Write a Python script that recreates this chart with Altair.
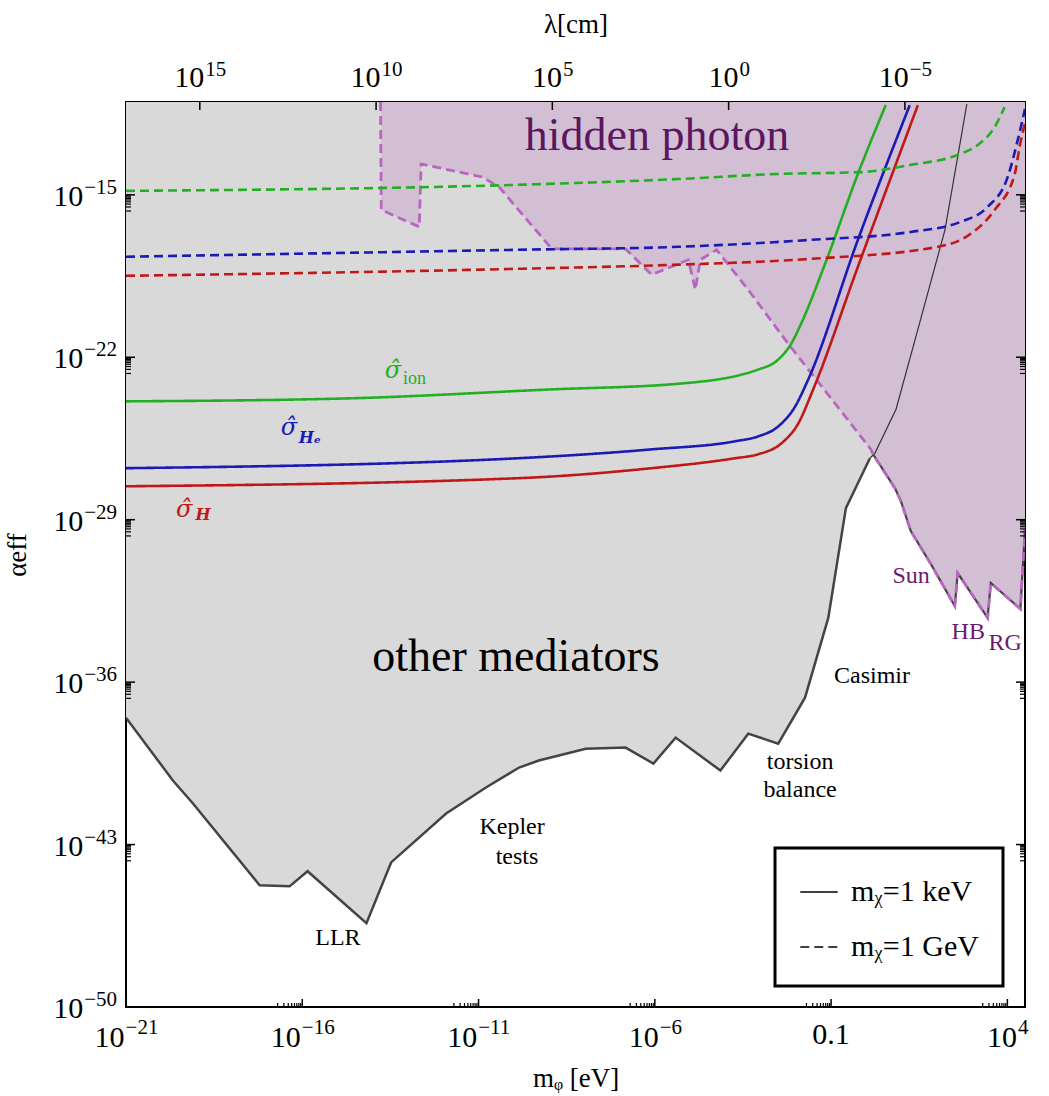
import math
import altair as alt
import pandas as pd

# ---------------- data (log10 values) ----------------
X_DOMAIN = [1e-21, 10 ** 4.5]
Y_DOMAIN = [1e-50, 1e-11]
LAM_CONV = 1.24e-4  # lambda[cm] * m[eV]

# lower envelope of "other mediators" region
env_logm = [-21.0, -19.67, -19.10, -17.21, -16.36, -15.85, -14.18, -13.48, -11.92, -10.79,
            -9.85, -9.29, -7.96, -6.83, -6.04, -5.41, -4.14, -3.35, -2.50, -1.74, -1.08, -0.58, 0.10]
env_loga = [-37.53, -40.24, -41.23, -44.75, -44.80, -44.15, -46.39, -43.77, -41.66, -40.54,
            -39.68, -39.38, -38.87, -38.82, -39.51, -38.39, -39.81, -38.22, -38.65, -36.67, -33.23, -28.50, -26.35]
# thin black right edge of the grey region
edge_logm = [0.10, 0.24, 0.84, 1.46, 2.23, 2.59, 2.85]
edge_loga = [-26.35, -26.14, -24.25, -20.81, -16.51, -13.37, -11.09]

# hidden photon lower boundary
ph_logm = [-13.78, -13.76, -12.68, -12.63, -10.90, -10.42, -9.77, -8.92, -6.83, -6.09, -5.05, -4.85,
           -4.71, -4.25, -3.35, -2.22, 0.13, 0.19, 0.81, 0.98, 1.26, 1.83, 2.51, 2.59, 3.44, 3.53,
           4.37, 4.50]
ph_loga = [-11.0, -15.65, -16.38, -13.67, -14.23, -14.66, -15.82, -17.33, -17.33, -18.44, -17.80, -19.09,
           -17.80, -17.37, -19.09, -21.41, -25.97, -26.18, -27.64, -28.20, -29.49, -30.91, -32.72, -31.30,
           -33.23, -31.73, -32.85, -29.40]
SUN_START = 17

# sensitivity curves
ion_keV_m = [-21, -14.66, -9.01, -5.24, -3.07, -2.50, -2.13, -1.85, -1.17, -0.24, 0.55]
ion_keV_a = [-23.90, -23.77, -23.39, -23.13, -22.53, -22.10, -21.41, -20.55, -17.97, -14.10, -11.13]
He_keV_m = [-21, -9.85, -6.09, -3.72, -3.07, -2.50, -2.02, -1.65, -0.24, 1.23]
He_keV_a = [-26.78, -26.35, -25.97, -25.62, -25.41, -24.98, -24.12, -22.96, -16.94, -11.14]
H_keV_m = [-21, -9.85, -6.09, -3.72, -3.07, -2.41, -1.93, -1.51, -0.24, 1.46]
H_keV_a = [-27.56, -27.21, -26.78, -26.35, -26.18, -25.71, -24.85, -23.39, -18.10, -11.14]
ion_GeV_m = [-21, -9.94, -5.33, -2.50, -0.15, 1.26, 2.59, 3.16, 3.64, 3.92]
ion_GeV_a = [-14.83, -14.57, -14.32, -14.10, -14.02, -13.71, -13.28, -12.85, -12.08, -11.22]
He_GeV_m = [-21, -9.94, -5.33, -1.57, 1.26, 2.68, 3.44, 4.01, 4.30, 4.50]
He_GeV_a = [-17.67, -17.37, -17.24, -16.94, -16.60, -16.16, -15.52, -14.23, -12.60, -11.30]
H_GeV_m = [-21, -9.94, -5.33, -1.57, 2.03, 2.96, 3.64, 4.21, 4.35, 4.50]
H_GeV_a = [-18.49, -18.19, -18.01, -17.76, -17.24, -16.68, -15.65, -14.10, -12.90, -11.90]

x_major = [1e-21, 1e-16, 1e-11, 1e-6, 0.1, 1e4]
y_major = [1e-50, 1e-43, 1e-36, 1e-29, 1e-22, 1e-15]
lam_major = [1e15, 1e10, 1e5, 1.0, 1e-5]

KEV = "mᵪ=1 keV"
GEV = "mᵪ=1 GeV"

# text labels: (log m, log alpha, text, color)
big_labels = [(-5.94, -12.45, "hidden photon", "#5c1660"), (-9.94, -34.9, "other mediators", "black")]
small_labels = [(1.27, -31.42, "Sun", "#6a1a6e"), (2.89, -33.84, "HB", "#6a1a6e"), (3.94, -34.31, "RG", "#6a1a6e"),
                (0.16, -35.73, "Casimir", "black"), (-1.88, -39.44, "torsion", "black"),
                (-1.88, -40.65, "balance", "black"), (-10.05, -42.24, "Kepler", "black"),
                (-9.91, -43.53, "tests", "black"), (-14.99, -47.03, "LLR", "black")]
sigma_labels = [(-13.43, -22.59, "σ̂", "#22b022"), (-16.38, -25.04, "σ̂", "#1a1ab4"), (-19.35, -28.58, "σ̂", "#c01818")]
sub_plain = [(-13.14, -22.95, "ion", "#22b022")]
sub_bold = [(-16.10, -25.50, "Hₑ", "#1a1ab4"), (-19.03, -28.80, "H", "#c01818")]

# ---------------- build tables ----------------
def p(v):
    return 10.0 ** v

TOP = Y_DOMAIN[1]
grey_df = pd.DataFrame({"m": [p(v) for v in env_logm + edge_logm[1:]],
                        "a": [p(v) for v in env_loga + edge_loga[1:]], "top": TOP})
env_df = pd.DataFrame({"m": [p(v) for v in env_logm], "a": [p(v) for v in env_loga]})
edge_df = pd.DataFrame({"m": [p(v) for v in edge_logm], "a": [p(v) for v in edge_loga]})
ph_df = pd.DataFrame({"m": [p(v) for v in ph_logm], "a": [p(v) for v in ph_loga], "top": TOP})
ph_area_df = ph_df.iloc[1:]
sun_df = ph_df.iloc[SUN_START:]

curves = []
for name, ser, mass, ms, as_ in [("ionk", "ion", KEV, ion_keV_m, ion_keV_a), ("Hek", "He", KEV, He_keV_m, He_keV_a),
                                 ("Hk", "H", KEV, H_keV_m, H_keV_a), ("ionG", "ion", GEV, ion_GeV_m, ion_GeV_a),
                                 ("HeG", "He", GEV, He_GeV_m, He_GeV_a), ("HG", "H", GEV, H_GeV_m, H_GeV_a)]:
    for mm, aa in zip(ms, as_):
        curves.append({"curve": name, "series": ser, "mass": mass, "m": p(mm), "a": p(aa)})
curve_df = pd.DataFrame(curves)


def lab_df(rows):
    return pd.DataFrame([{"m": p(r[0]), "a": p(r[1]), "text": r[2], "color": r[3]} for r in rows])


def in_x(v):
    return X_DOMAIN[0] <= v <= X_DOMAIN[1]


def in_y(v):
    return Y_DOMAIN[0] <= v <= Y_DOMAIN[1]


xt = [{"v": v, "kind": "major"} for v in x_major]
xt += [{"v": j * v / 10, "kind": "minor"} for v in x_major for j in range(2, 10) if in_x(j * v / 10)]
yt = [{"v": v, "kind": "major"} for v in y_major]
yt += [{"v": j * v / 10, "kind": "minor"} for v in y_major for j in range(2, 10) if in_y(j * v / 10)]
xt_df = pd.DataFrame(xt)
yt_df = pd.DataFrame(yt)

# ---------------- scales / axes ----------------
W, H = 899, 905
SERIF = "Liberation Serif"
BASE_FS, EXP_FS = 30, 21

xs = alt.Scale(type="log", domain=X_DOMAIN, nice=False)
ys = alt.Scale(type="log", domain=Y_DOMAIN, nice=False)
xaxis = alt.Axis(labels=False, title="mᵩ [eV]", ticks=False, domain=False, grid=False, titleFontSize=27,
                 titlePadding=58)
yaxis = alt.Axis(labels=False, title="αeff", ticks=False, domain=False, grid=False, titleFontSize=27,
                 titlePadding=95)


def X(f="m"):
    return alt.X(f"{f}:Q", scale=xs, axis=xaxis)


def Y(f="a"):
    return alt.Y(f"{f}:Q", scale=ys, axis=yaxis)


def exp_of(v):
    k = int(round(math.log10(v)))
    return ("−" if k < 0 else "") + str(abs(k))


def exp_width(e):
    return EXP_FS * (0.564 * e.count("−") + 0.5 * (len(e) - e.count("−")))


def horiz_labels(values, xenc, base_y, exp_y, special=None):
    """Tick labels 10^k centred on ticks of a horizontal axis."""
    special = special or {}
    groups = {}
    for v in values:
        if v in special:
            groups.setdefault(("special",), []).append({"v": v, "base": special[v], "exp": ""})
        else:
            e = exp_of(v)
            groups.setdefault((e.count("−"), len(e)), []).append({"v": v, "base": "10", "exp": e})
    layers = []
    for key, rows in groups.items():
        df = pd.DataFrame(rows)
        if key == ("special",):
            layers.append(alt.Chart(df).mark_text(font=SERIF, fontSize=BASE_FS, align="center",
                                                  baseline="alphabetic", color="black").encode(
                x=xenc, y=alt.value(base_y - 3), text="base:N"))
            continue
        ew = exp_width(rows[0]["exp"])
        shift = (BASE_FS - ew) / 2
        layers.append(alt.Chart(df).mark_text(font=SERIF, fontSize=BASE_FS, align="right", baseline="alphabetic",
                                              dx=shift, color="black").encode(x=xenc, y=alt.value(base_y),
                                                                              text="base:N"))
        layers.append(alt.Chart(df).mark_text(font=SERIF, fontSize=EXP_FS, align="left", baseline="alphabetic",
                                              dx=shift + 1, color="black").encode(x=xenc, y=alt.value(exp_y),
                                                                                  text="exp:N"))
    return layers


grey_area = alt.Chart(grey_df).mark_area(color="#d9d9d9", clip=True).encode(
    x=X(), y=Y(), y2=alt.Y2("top:Q"))
ph_area = alt.Chart(ph_area_df).mark_area(color="#d3bfd4", clip=True).encode(
    x=X(), y=Y(), y2=alt.Y2("top:Q"))
env_line = alt.Chart(env_df).mark_line(color="#444444", strokeWidth=2.5, clip=True).encode(x=X(), y=Y())
edge_line = alt.Chart(edge_df).mark_line(color="#333333", strokeWidth=1.2, clip=True).encode(x=X(), y=Y())
sun_line = alt.Chart(sun_df).mark_line(color="#444444", strokeWidth=2.2, clip=True).encode(x=X(), y=Y())
ph_line = alt.Chart(ph_df).mark_line(color="#b966c1", strokeWidth=2.8, strokeDash=[9, 5], clip=True).encode(
    x=X(), y=Y())

curve_layer = alt.Chart(curve_df).mark_line(strokeWidth=2.6, clip=True, interpolate="monotone").encode(
    x=X(), y=Y(), detail="curve:N",
    color=alt.Color("series:N", scale=alt.Scale(domain=["ion", "He", "H"],
                                                range=["#22b022", "#1a1ab4", "#c01818"]), legend=None),
    strokeDash=alt.StrokeDash("mass:N", scale=alt.Scale(domain=[KEV, GEV], range=[[1, 0], [9, 5]]),
                              legend=alt.Legend(title=None, orient="none", legendX=649, legendY=746,
                                                symbolType="stroke", symbolStrokeColor="black",
                                                symbolStrokeWidth=1.6, symbolSize=1400, labelFontSize=30,
                                                labelFont=SERIF, labelColor="black", padding=24, rowPadding=20,
                                                labelOffset=12, strokeColor="black", fillColor="white")))


def text_layer(rows, size, style="normal", weight="normal", align="center", font=SERIF):
    return alt.Chart(lab_df(rows)).mark_text(font=font, fontSize=size, fontStyle=style, fontWeight=weight,
                                             align=align, baseline="middle").encode(
        x=X(), y=Y(), text="text:N", color=alt.Color("color:N", scale=None))


t_big = text_layer(big_labels, 46)
t_small = text_layer(small_labels, 24)
t_sigma = text_layer(sigma_labels, 24, style="italic", font="DejaVu Serif")
t_sub1 = text_layer(sub_plain, 18, align="left")
t_sub2 = text_layer(sub_bold, 16, style="italic", weight="bold", align="left", font="DejaVu Serif")

xtick = alt.Chart(xt_df).mark_rule(color="black", strokeWidth=1.2).encode(
    x=alt.X("v:Q", scale=xs, axis=xaxis), y=alt.value(H), y2=alt.value(H - 4)).transform_filter(
    "datum.kind == 'minor'")
xtick_major = alt.Chart(xt_df).mark_rule(color="black", strokeWidth=1.5).encode(
    x=alt.X("v:Q", scale=xs, axis=xaxis), y=alt.value(H), y2=alt.value(H - 8)).transform_filter(
    "datum.kind == 'major'")
ytick_l = alt.Chart(yt_df).mark_rule(color="black", strokeWidth=1.2).encode(
    y=alt.Y("v:Q", scale=ys, axis=yaxis), x=alt.value(0), x2=alt.value(5)).transform_filter(
    "datum.kind == 'minor'")
ytick_lM = alt.Chart(yt_df).mark_rule(color="black", strokeWidth=1.5).encode(
    y=alt.Y("v:Q", scale=ys, axis=yaxis), x=alt.value(0), x2=alt.value(9)).transform_filter(
    "datum.kind == 'major'")
ytick_r = alt.Chart(yt_df).mark_rule(color="black", strokeWidth=1.2).encode(
    y=alt.Y("v:Q", scale=ys, axis=yaxis), x=alt.value(W), x2=alt.value(W - 5)).transform_filter(
    "datum.kind == 'minor'")
ytick_rM = alt.Chart(yt_df).mark_rule(color="black", strokeWidth=1.5).encode(
    y=alt.Y("v:Q", scale=ys, axis=yaxis), x=alt.value(W), x2=alt.value(W - 9)).transform_filter(
    "datum.kind == 'major'")

# y tick labels (all exponents are a minus sign and two digits)
ylab_df = pd.DataFrame([{"v": v, "base": "10", "exp": exp_of(v)} for v in y_major])
y_ew = exp_width(exp_of(y_major[0]))
ylab_base = alt.Chart(ylab_df).mark_text(font=SERIF, fontSize=BASE_FS, align="right", baseline="alphabetic",
                                         dx=-y_ew - 1, dy=11, color="black").encode(
    y=alt.Y("v:Q", scale=ys, axis=yaxis), x=alt.value(-9), text="base:N")
ylab_exp = alt.Chart(ylab_df).mark_text(font=SERIF, fontSize=EXP_FS, align="right", baseline="alphabetic",
                                        dy=-1, color="black").encode(
    y=alt.Y("v:Q", scale=ys, axis=yaxis), x=alt.value(-9), text="exp:N")

xlab_layers = horiz_labels(x_major, alt.X("v:Q", scale=xs, axis=xaxis), H + 40, H + 27, special={0.1: "0.1"})

main = alt.layer(grey_area, ph_area, env_line, edge_line, sun_line, ph_line, curve_layer,
                 t_big, t_small, t_sigma, t_sub1, t_sub2,
                 xtick, xtick_major, ytick_l, ytick_lM, ytick_r, ytick_rM, ylab_base, ylab_exp, *xlab_layers)

lam_lo = LAM_CONV / X_DOMAIN[1]
lam_hi = LAM_CONV / X_DOMAIN[0]
lam_scale = alt.Scale(type="log", domain=[lam_lo, lam_hi], reverse=True, nice=False)
lam_axis = alt.Axis(orient="top", labels=False, title="λ[cm]", ticks=False, domain=False, grid=False,
                    titleFontSize=27, titlePadding=64)
lam_x = alt.X("v:Q", scale=lam_scale, axis=lam_axis)
top_ticks = alt.Chart(pd.DataFrame({"v": lam_major})).mark_rule(color="black", strokeWidth=1.5).encode(
    x=lam_x, y=alt.value(0), y2=alt.value(8))
top = alt.layer(top_ticks, *horiz_labels(lam_major, lam_x, -15, -26))

chart = alt.layer(main, top).resolve_scale(x="independent").properties(
    width=W, height=H,
    autosize=alt.AutoSizeParams(type="none"),
    padding={"left": 126, "top": 102, "right": 24, "bottom": 89},
    background="white",
).configure_view(stroke="black", strokeWidth=2).configure_axis(
    labelFont=SERIF, titleFont=SERIF, labelColor="black", titleColor="black", titleFontWeight="normal"
).configure_legend(strokeWidth=3)

chart.save("out.html", embed_options={"renderer": "svg", "actions": False})
